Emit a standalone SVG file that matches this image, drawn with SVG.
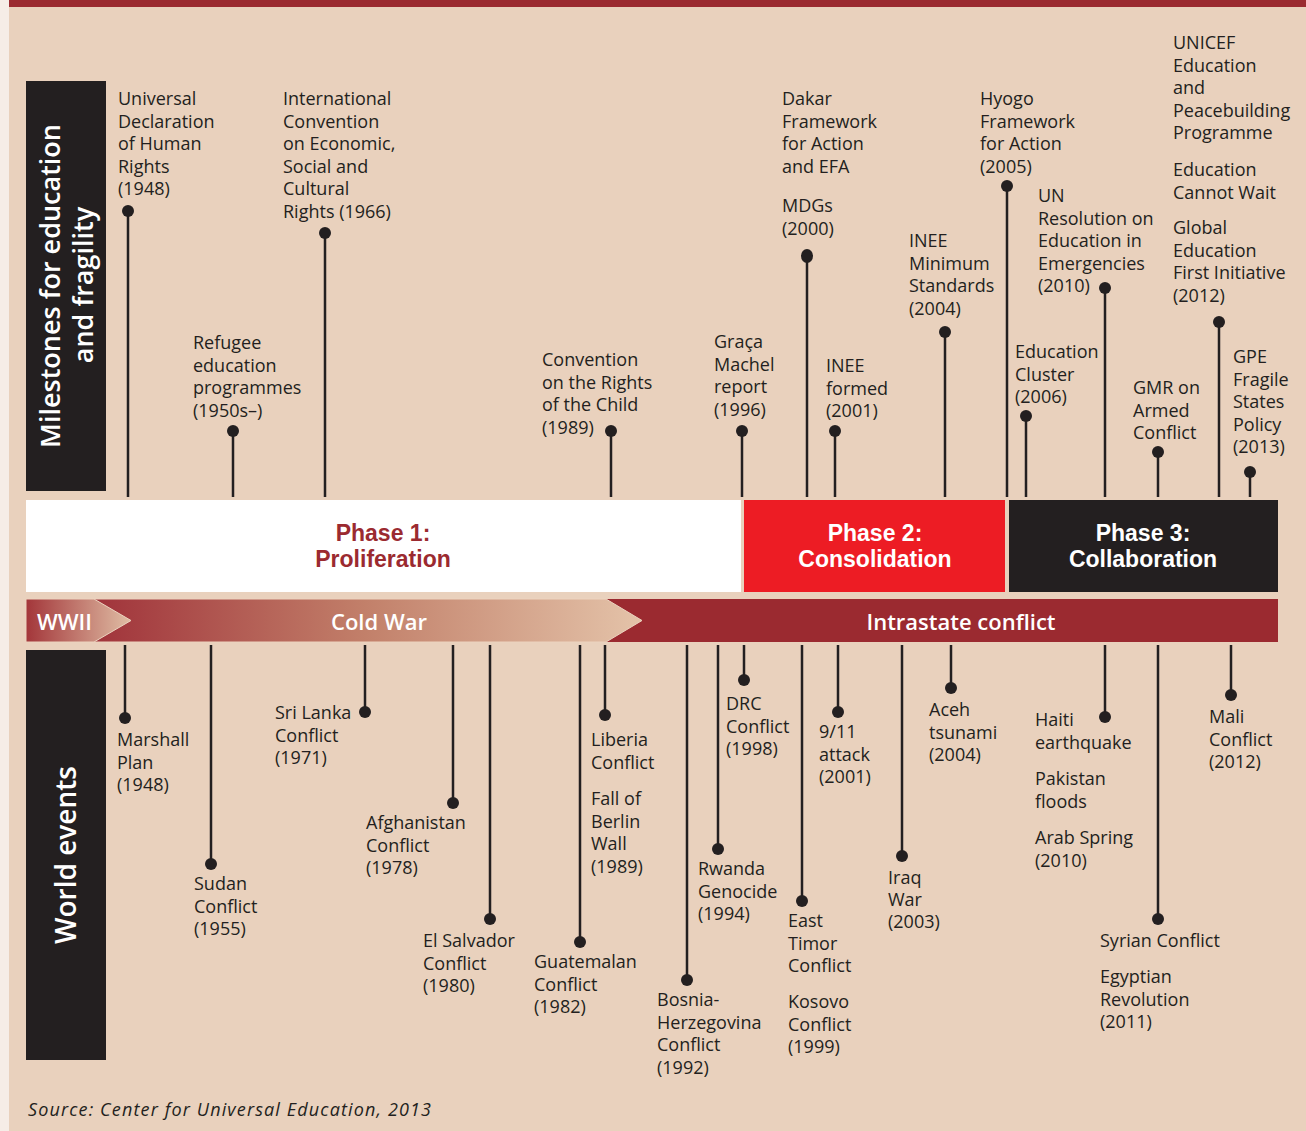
<svg xmlns="http://www.w3.org/2000/svg" width="1306" height="1131" viewBox="0 0 1306 1131">
<defs>
<style>
.t{font-family:"Open Sans","Noto Sans","Liberation Sans",sans-serif;font-size:18px;fill:#231f20}
.stem{stroke:#231f20;stroke-width:2.5;fill:none}
.dot{fill:#231f20}
.ph{font-family:"Liberation Sans",Arial,sans-serif;font-size:23px;font-weight:700;text-anchor:middle}
.band{font-family:"Open Sans","Noto Sans","Liberation Sans",sans-serif;font-size:22px;font-weight:600;fill:#ffffff}
.vert{font-family:"Open Sans","Noto Sans","Liberation Sans",sans-serif;font-weight:600;fill:#ffffff;text-anchor:middle}
</style>
<linearGradient id="gWW" x1="0" y1="0" x2="1" y2="0">
<stop offset="0" stop-color="#a3363a"/>
<stop offset="1" stop-color="#e0bea5"/>
</linearGradient>
<linearGradient id="gCW" x1="0" y1="0" x2="1" y2="0">
<stop offset="0" stop-color="#a0323a"/>
<stop offset="0.5" stop-color="#c2806a"/>
<stop offset="1" stop-color="#e4c3a9"/>
</linearGradient>
</defs>
<rect x="0" y="0" width="1306" height="1131" fill="#e9d1bd"/>
<rect x="0" y="0" width="9" height="1131" fill="#f6ede7"/>
<rect x="9" y="0" width="1297" height="7" fill="#9b2a30"/>

<g id="label-milestones">
<rect x="26" y="81" width="80" height="410" fill="#231f20"/>
<text class="vert" font-size="27" transform="translate(60,286) rotate(-90)">Milestones for education</text>
<text class="vert" font-size="27" transform="translate(93,285) rotate(-90)">and fragility</text>
</g>
<g id="label-world">
<rect x="26" y="650" width="80" height="410" fill="#231f20"/>
<text class="vert" font-size="28" transform="translate(76,855) rotate(-90)">World events</text>
</g>

<g id="phases">
<rect x="26" y="500" width="715" height="92" fill="#ffffff"/>
<text class="ph" fill="#9b2a30" x="383" y="541">Phase 1:</text>
<text class="ph" fill="#9b2a30" x="383" y="567">Proliferation</text>
<rect x="744" y="500" width="261" height="92" fill="#ed1c24"/>
<text class="ph" fill="#ffffff" x="875" y="541">Phase 2:</text>
<text class="ph" fill="#ffffff" x="875" y="567">Consolidation</text>
<rect x="1009" y="500" width="269" height="92" fill="#231f20"/>
<text class="ph" fill="#ffffff" x="1143" y="541">Phase 3:</text>
<text class="ph" fill="#ffffff" x="1143" y="567">Collaboration</text>
</g>

<g id="eras">
<rect x="604" y="599" width="674" height="43" fill="#9b2a30"/>
<path d="M90,599 L606,599 L642,620.5 L606,642 L90,642 Z" fill="url(#gCW)" stroke="#ecd3bf" stroke-width="1"/>
<path d="M26,599 L94,599 L131,620.5 L94,642 L26,642 Z" fill="url(#gWW)" stroke="#ecd3bf" stroke-width="1"/>
<text class="band" x="37" y="630">WWII</text>
<text class="band" x="379" y="630" text-anchor="middle">Cold War</text>
<text class="band" x="961" y="630" text-anchor="middle">Intrastate conflict</text>
</g>

<g id="connectors">
<line class="stem" x1="128" y1="211" x2="128" y2="497"/>
<line class="stem" x1="325" y1="233" x2="325" y2="497"/>
<line class="stem" x1="233" y1="431" x2="233" y2="497"/>
<line class="stem" x1="611" y1="431" x2="611" y2="497"/>
<line class="stem" x1="742" y1="431" x2="742" y2="497"/>
<line class="stem" x1="807" y1="256" x2="807" y2="497"/>
<line class="stem" x1="835" y1="431" x2="835" y2="497"/>
<line class="stem" x1="945" y1="332" x2="945" y2="497"/>
<line class="stem" x1="1007" y1="186" x2="1007" y2="497"/>
<line class="stem" x1="1026" y1="416" x2="1026" y2="497"/>
<line class="stem" x1="1105" y1="288" x2="1105" y2="497"/>
<line class="stem" x1="1158" y1="452" x2="1158" y2="497"/>
<line class="stem" x1="1219" y1="322" x2="1219" y2="497"/>
<line class="stem" x1="1250" y1="472" x2="1250" y2="497"/>

<line class="stem" x1="125" y1="645" x2="125" y2="718"/>
<line class="stem" x1="211" y1="645" x2="211" y2="864"/>
<line class="stem" x1="365" y1="645" x2="365" y2="712"/>
<line class="stem" x1="453" y1="645" x2="453" y2="803"/>
<line class="stem" x1="490" y1="645" x2="490" y2="919"/>
<line class="stem" x1="580" y1="645" x2="580" y2="942"/>
<line class="stem" x1="605" y1="645" x2="605" y2="715"/>
<line class="stem" x1="687" y1="645" x2="687" y2="980"/>
<line class="stem" x1="718" y1="645" x2="718" y2="849"/>
<line class="stem" x1="744" y1="645" x2="744" y2="680"/>
<line class="stem" x1="802" y1="645" x2="802" y2="901"/>
<line class="stem" x1="838" y1="645" x2="838" y2="712"/>
<line class="stem" x1="902" y1="645" x2="902" y2="856"/>
<line class="stem" x1="951" y1="645" x2="951" y2="688"/>
<line class="stem" x1="1105" y1="645" x2="1105" y2="717"/>
<line class="stem" x1="1158" y1="645" x2="1158" y2="919"/>
<line class="stem" x1="1231" y1="645" x2="1231" y2="695"/>
</g>

<g id="m-udhr"><circle class="dot" cx="128" cy="211" r="6"/>
<text class="t"><tspan x="118" y="105">Universal</tspan><tspan x="118" y="127.5">Declaration</tspan><tspan x="118" y="150">of Human</tspan><tspan x="118" y="172.5">Rights</tspan><tspan x="118" y="195">(1948)</tspan></text></g>
<g id="m-icescr"><circle class="dot" cx="325" cy="233" r="6"/>
<text class="t"><tspan x="283" y="105">International</tspan><tspan x="283" y="127.5">Convention</tspan><tspan x="283" y="150">on Economic,</tspan><tspan x="283" y="172.5">Social and</tspan><tspan x="283" y="195">Cultural</tspan><tspan x="283" y="217.5">Rights (1966)</tspan></text></g>
<g id="m-refugee"><circle class="dot" cx="233" cy="431" r="6"/>
<text class="t"><tspan x="193" y="349">Refugee</tspan><tspan x="193" y="371.5">education</tspan><tspan x="193" y="394">programmes</tspan><tspan x="193" y="416.5">(1950s–)</tspan></text></g>
<g id="m-crc"><circle class="dot" cx="611" cy="431" r="6"/>
<text class="t"><tspan x="542" y="366">Convention</tspan><tspan x="542" y="388.5">on the Rights</tspan><tspan x="542" y="411">of the Child</tspan><tspan x="542" y="433.5">(1989)</tspan></text></g>
<g id="m-graca"><circle class="dot" cx="742" cy="431" r="6"/>
<text class="t"><tspan x="714" y="348">Graça</tspan><tspan x="714" y="370.5">Machel</tspan><tspan x="714" y="393">report</tspan><tspan x="714" y="415.5">(1996)</tspan></text></g>
<g id="m-dakar"><ellipse class="dot" cx="807" cy="256" rx="6" ry="7"/>
<text class="t"><tspan x="782" y="105">Dakar</tspan><tspan x="782" y="127.5">Framework</tspan><tspan x="782" y="150">for Action</tspan><tspan x="782" y="172.5">and EFA</tspan><tspan x="782" y="212">MDGs</tspan><tspan x="782" y="234.5">(2000)</tspan></text></g>
<g id="m-inee"><circle class="dot" cx="835" cy="431" r="6"/>
<text class="t"><tspan x="826" y="372">INEE</tspan><tspan x="826" y="394.5">formed</tspan><tspan x="826" y="417">(2001)</tspan></text></g>
<g id="m-ineems"><circle class="dot" cx="945" cy="332" r="6"/>
<text class="t"><tspan x="909" y="247">INEE</tspan><tspan x="909" y="269.5">Minimum</tspan><tspan x="909" y="292">Standards</tspan><tspan x="909" y="314.5">(2004)</tspan></text></g>
<g id="m-hyogo"><circle class="dot" cx="1007" cy="186" r="6"/>
<text class="t"><tspan x="980" y="105">Hyogo</tspan><tspan x="980" y="127.5">Framework</tspan><tspan x="980" y="150">for Action</tspan><tspan x="980" y="172.5">(2005)</tspan></text></g>
<g id="m-cluster"><circle class="dot" cx="1026" cy="416" r="6"/>
<text class="t"><tspan x="1015" y="358">Education</tspan><tspan x="1015" y="380.5">Cluster</tspan><tspan x="1015" y="403">(2006)</tspan></text></g>
<g id="m-unres"><circle class="dot" cx="1105" cy="288" r="6"/>
<text class="t"><tspan x="1038" y="202">UN</tspan><tspan x="1038" y="224.5">Resolution on</tspan><tspan x="1038" y="247">Education in</tspan><tspan x="1038" y="269.5">Emergencies</tspan><tspan x="1038" y="292">(2010)</tspan></text></g>
<g id="m-gmr"><circle class="dot" cx="1158" cy="452" r="6"/>
<text class="t"><tspan x="1133" y="394">GMR on</tspan><tspan x="1133" y="416.5">Armed</tspan><tspan x="1133" y="439">Conflict</tspan></text></g>
<g id="m-unicef"><circle class="dot" cx="1219" cy="322" r="6"/>
<text class="t"><tspan x="1173" y="49">UNICEF</tspan><tspan x="1173" y="71.5">Education</tspan><tspan x="1173" y="94">and</tspan><tspan x="1173" y="116.5">Peacebuilding</tspan><tspan x="1173" y="139">Programme</tspan><tspan x="1173" y="176">Education</tspan><tspan x="1173" y="198.5">Cannot Wait</tspan><tspan x="1173" y="234">Global</tspan><tspan x="1173" y="256.5">Education</tspan><tspan x="1173" y="279">First Initiative</tspan><tspan x="1173" y="301.5">(2012)</tspan></text></g>
<g id="m-gpe"><circle class="dot" cx="1250" cy="472" r="6"/>
<text class="t"><tspan x="1233" y="363">GPE</tspan><tspan x="1233" y="385.5">Fragile</tspan><tspan x="1233" y="408">States</tspan><tspan x="1233" y="430.5">Policy</tspan><tspan x="1233" y="453">(2013)</tspan></text></g>

<g id="e-marshall"><circle class="dot" cx="125" cy="718" r="6"/>
<text class="t"><tspan x="117" y="746">Marshall</tspan><tspan x="117" y="768.5">Plan</tspan><tspan x="117" y="791">(1948)</tspan></text></g>
<g id="e-sudan"><circle class="dot" cx="211" cy="864" r="6"/>
<text class="t"><tspan x="194" y="890">Sudan</tspan><tspan x="194" y="912.5">Conflict</tspan><tspan x="194" y="935">(1955)</tspan></text></g>
<g id="e-srilanka"><circle class="dot" cx="365" cy="712" r="6"/>
<text class="t"><tspan x="275" y="719">Sri Lanka</tspan><tspan x="275" y="741.5">Conflict</tspan><tspan x="275" y="764">(1971)</tspan></text></g>
<g id="e-afghan"><circle class="dot" cx="453" cy="803" r="6"/>
<text class="t"><tspan x="366" y="829">Afghanistan</tspan><tspan x="366" y="851.5">Conflict</tspan><tspan x="366" y="874">(1978)</tspan></text></g>
<g id="e-elsalvador"><circle class="dot" cx="490" cy="919" r="6"/>
<text class="t"><tspan x="423" y="947">El Salvador</tspan><tspan x="423" y="969.5">Conflict</tspan><tspan x="423" y="992">(1980)</tspan></text></g>
<g id="e-guatemala"><circle class="dot" cx="580" cy="942" r="6"/>
<text class="t"><tspan x="534" y="968">Guatemalan</tspan><tspan x="534" y="990.5">Conflict</tspan><tspan x="534" y="1013">(1982)</tspan></text></g>
<g id="e-liberia"><circle class="dot" cx="605" cy="715" r="6"/>
<text class="t"><tspan x="591" y="746">Liberia</tspan><tspan x="591" y="768.5">Conflict</tspan><tspan x="591" y="805">Fall of</tspan><tspan x="591" y="827.5">Berlin</tspan><tspan x="591" y="850">Wall</tspan><tspan x="591" y="872.5">(1989)</tspan></text></g>
<g id="e-bosnia"><circle class="dot" cx="687" cy="980" r="6"/>
<text class="t"><tspan x="657" y="1006">Bosnia-</tspan><tspan x="657" y="1028.5">Herzegovina</tspan><tspan x="657" y="1051">Conflict</tspan><tspan x="657" y="1073.5">(1992)</tspan></text></g>
<g id="e-rwanda"><circle class="dot" cx="718" cy="849" r="6"/>
<text class="t"><tspan x="698" y="875">Rwanda</tspan><tspan x="698" y="897.5">Genocide</tspan><tspan x="698" y="920">(1994)</tspan></text></g>
<g id="e-drc"><circle class="dot" cx="744" cy="680" r="6"/>
<text class="t"><tspan x="726" y="710">DRC</tspan><tspan x="726" y="732.5">Conflict</tspan><tspan x="726" y="755">(1998)</tspan></text></g>
<g id="e-timor"><circle class="dot" cx="802" cy="901" r="6"/>
<text class="t"><tspan x="788" y="927">East</tspan><tspan x="788" y="949.5">Timor</tspan><tspan x="788" y="972">Conflict</tspan><tspan x="788" y="1008">Kosovo</tspan><tspan x="788" y="1030.5">Conflict</tspan><tspan x="788" y="1053">(1999)</tspan></text></g>
<g id="e-911"><circle class="dot" cx="838" cy="712" r="6"/>
<text class="t"><tspan x="819" y="738">9/11</tspan><tspan x="819" y="760.5">attack</tspan><tspan x="819" y="783">(2001)</tspan></text></g>
<g id="e-iraq"><circle class="dot" cx="902" cy="856" r="6"/>
<text class="t"><tspan x="888" y="884">Iraq</tspan><tspan x="888" y="905.5">War</tspan><tspan x="888" y="928">(2003)</tspan></text></g>
<g id="e-aceh"><circle class="dot" cx="951" cy="688" r="6"/>
<text class="t"><tspan x="929" y="716">Aceh</tspan><tspan x="929" y="738.5">tsunami</tspan><tspan x="929" y="761">(2004)</tspan></text></g>
<g id="e-haiti"><circle class="dot" cx="1105" cy="717" r="6"/>
<text class="t"><tspan x="1035" y="726">Haiti</tspan><tspan x="1035" y="748.5">earthquake</tspan><tspan x="1035" y="785">Pakistan</tspan><tspan x="1035" y="807.5">floods</tspan><tspan x="1035" y="844">Arab Spring</tspan><tspan x="1035" y="866.5">(2010)</tspan></text></g>
<g id="e-syria"><circle class="dot" cx="1158" cy="919" r="6"/>
<text class="t"><tspan x="1100" y="947">Syrian Conflict</tspan><tspan x="1100" y="983">Egyptian</tspan><tspan x="1100" y="1005.5">Revolution</tspan><tspan x="1100" y="1028">(2011)</tspan></text></g>
<g id="e-mali"><circle class="dot" cx="1231" cy="695" r="6"/>
<text class="t"><tspan x="1209" y="723">Mali</tspan><tspan x="1209" y="745.5">Conflict</tspan><tspan x="1209" y="768">(2012)</tspan></text></g>

<text class="t" x="28" y="1116" font-style="italic" font-size="20.5" textLength="403" lengthAdjust="spacing">Source: Center for Universal Education, 2013</text>
</svg>
